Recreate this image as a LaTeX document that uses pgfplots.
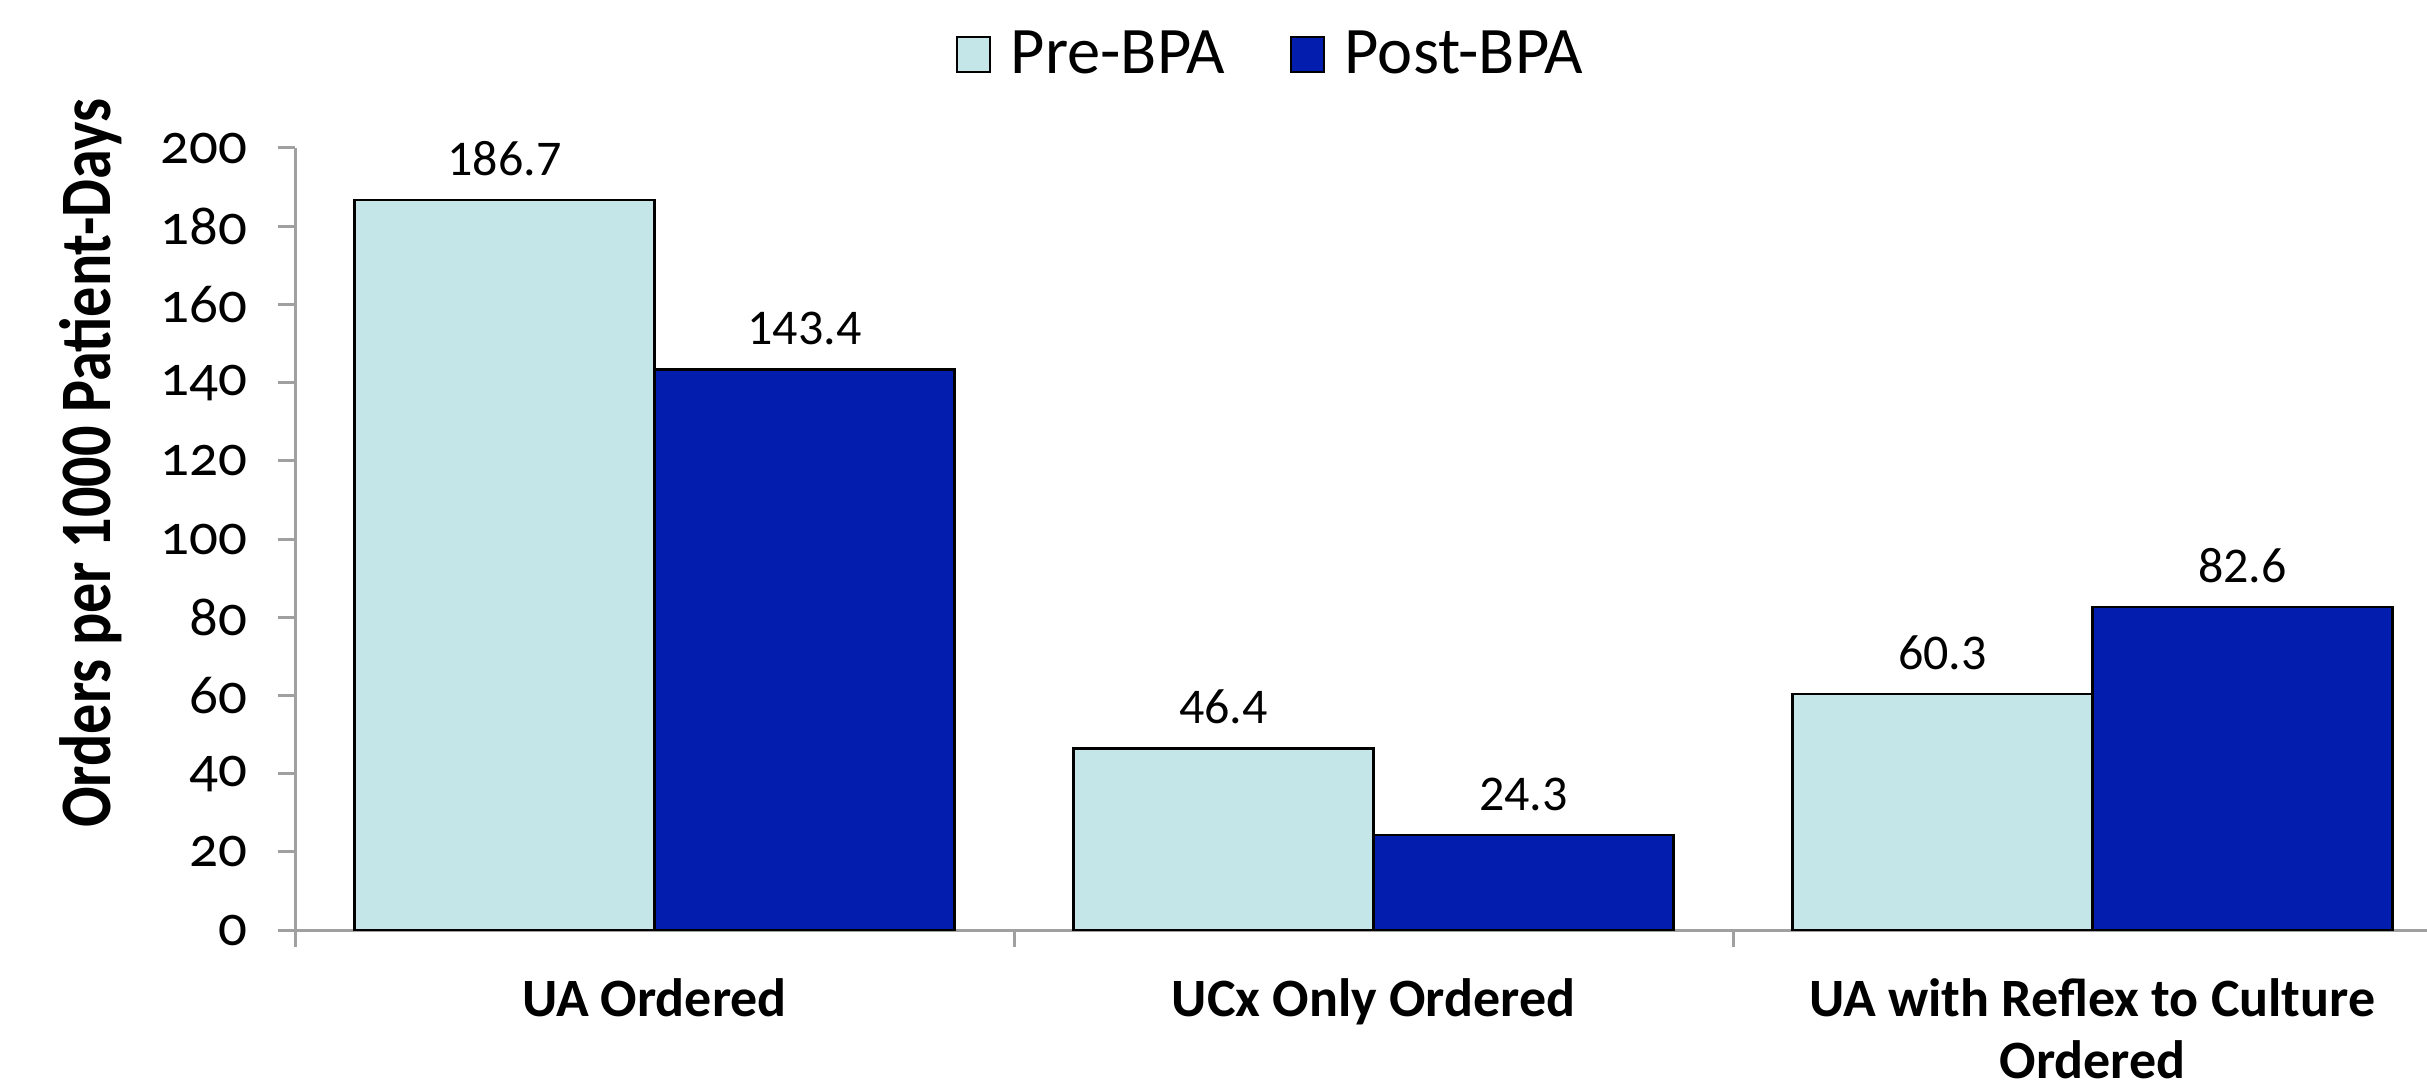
\documentclass[border=0pt]{standalone}
\usepackage{fontspec}
\setmainfont{Carlito}
\newfontfamily\tickfont{Carlito}[Numbers=OldStyle]
\newfontfamily\condfont{Carlito}[FakeStretch=0.83]
\usepackage{pgfplots}
\pgfplotsset{compat=1.18}
\definecolor{pre}{RGB}{196,230,232}
\definecolor{post}{RGB}{3,30,174}
\definecolor{axgray}{RGB}{160,160,160}
\begin{document}
\begin{tikzpicture}
\begin{axis}[
  name=ax,
  scale only axis,
  width=431.4pt, height=156.4pt,
  xmin=-0.5, xmax=2.5, ymin=0, ymax=200,
  ybar=0pt, bar width=60pt,
  axis x line=bottom, axis y line=left,
  axis line style={axgray, line width=0.6pt, -},
  tick align=outside,
  major tick length=3.4pt,
  tick style={axgray, line width=0.6pt},
  xtick={-0.5,0.5,1.5,2.5},
  xticklabels={},
  extra x ticks={0,1,2},
  extra x tick labels={UA Ordered, UCx Only Ordered, {UA with Reflex to Culture\\Ordered}},
  extra x tick style={major tick length=0pt, xticklabel style={font=\fontsize{10.8}{12.4}\selectfont\bfseries, align=center, anchor=north, inner sep=0pt, yshift=-9.5pt}},
  ytick={0,20,...,200},
  /pgf/number format/assume math mode=true,
  yticklabel style={font=\fontsize{11.4}{13}\tickfont, inner sep=0pt, anchor=east, xshift=-6pt},
  ylabel={Orders per 1000 Patient-Days},
  ylabel style={font=\fontsize{14.5}{16}\condfont\bfseries, at={(axis description cs:-0.0945,0.597)}, anchor=center},
  nodes near coords={\pgfmathprintnumber[fixed,fixed zerofill,precision=1,assume math mode=true]{\pgfplotspointmeta}},
  nodes near coords style={font=\fontsize{10}{12}\selectfont, inner sep=0pt, anchor=south, yshift=4.6pt, text=black},
  legend style={draw=none, fill=none, at={(axis description cs:0.454,1.118)}, anchor=center, legend columns=2, font=\fontsize{13.3}{15}\selectfont, /tikz/every even column/.append style={column sep=11pt}},
]
\addplot[fill=pre, draw=black, line width=0.5pt, legend image code/.code={\draw[fill=pre,draw=black,line width=0.5pt] (0pt,-3.3pt) rectangle (6.6pt,3.7pt); \path (8.5pt,0pt);}]
  coordinates {(0,186.7) (1,46.4) (2,60.3)};
\addlegendentry{Pre-BPA}
\addplot[fill=post, draw=black, line width=0.5pt, legend image code/.code={\draw[fill=post,draw=black,line width=0.5pt] (0pt,-3.3pt) rectangle (6.6pt,3.7pt); \path (8.5pt,0pt);}]
  coordinates {(0,143.4) (1,24.3) (2,82.6)};
\addlegendentry{Post-BPA}
\end{axis}
\pgfresetboundingbox
\path[use as bounding box] ([xshift=-59pt,yshift=-31pt]ax.south west) rectangle ([xshift=-5pt,yshift=29.6pt]ax.north east);
\end{tikzpicture}
\end{document}
